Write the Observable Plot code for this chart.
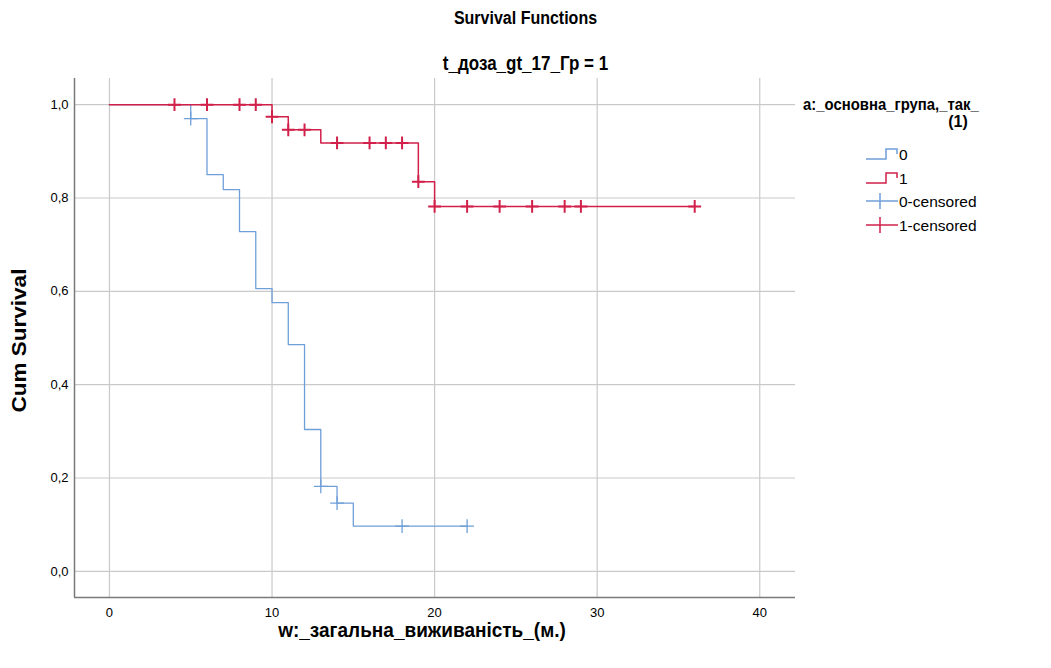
<!DOCTYPE html>
<html>
<head>
<meta charset="utf-8">
<script src="https://cdn.jsdelivr.net/npm/d3@7"></script>
<script src="https://cdn.jsdelivr.net/npm/@observablehq/plot@0.6"></script>
<style>
  html, body { margin: 0; padding: 0; background: #fff; }
  #wrap { position: relative; width: 1051px; height: 668px; font-family: "Liberation Sans", Arial, sans-serif; color: #000; }
  .t { position: absolute; white-space: nowrap; }
  .bold { font-weight: bold; }
  #legend .row { position: absolute; left: 866px; height: 20px; display: flex; align-items: center; font-size: 15.5px; }
  #legend svg { display: block; }
</style>
</head>
<body>
<div id="wrap">
  <div class="t bold" style="left:0;width:1051px;text-align:center;top:9px;font-size:16px;transform:scale(1,1.15);">Survival Functions</div>
  <div class="t bold" style="left:0;width:1051px;text-align:center;top:54px;font-size:17px;transform:scale(1,1.15);">t_доза_gt_17_Гр = 1</div>
  <div class="t bold" style="left:-50px;width:140px;text-align:center;top:330px;font-size:18px;transform:rotate(-90deg) scale(1.25,1.1);transform-origin:center;">Cum Survival</div>
  <div class="t bold" style="left:62px;width:720px;text-align:center;top:620px;font-size:19px;transform:scale(1,1.05);">w:_загальна_виживаність_(м.)</div>
  <div id="legend"></div>
  <div id="chart"></div>
</div>
<script>
// Group 0 (blue): step times and survival values
const times0 = [0, 5, 6, 7, 8, 9, 10, 11, 12, 13, 14, 15, 22];
const surv0  = [1.0, 0.97, 0.85, 0.818, 0.728, 0.606, 0.576, 0.486, 0.304, 0.182, 0.146, 0.097, 0.097];
const censor0 = [5, 13, 14, 18, 22];

// Group 1 (red)
const times1 = [0, 10, 11, 13, 19, 20, 36];
const surv1  = [1.0, 0.974, 0.946, 0.918, 0.835, 0.782, 0.782];
const censor1 = [4, 6, 8, 9, 10, 11, 12, 14, 16, 17, 18, 19, 20, 22, 24, 26, 28, 29, 36];

const xTicks = [0, 10, 20, 30, 40];
const yTicks = [0, 0.2, 0.4, 0.6, 0.8, 1.0];

const groups = ["0", "1"];
const colors = ["#6f9fd8", "#d1204a"];
const legendTitle = "a:_основна_група,_так_";
const legendTitle2 = "(1)";
const legendLabels = ["0", "1", "0-censored", "1-censored"];

function stepAt(times, surv, t) {
  let v = surv[0];
  for (let i = 0; i < times.length; i++) if (times[i] <= t) v = surv[i];
  return v;
}

const line0 = times0.map((t, i) => ({time: t, surv: surv0[i], g: "0"}));
const line1 = times1.map((t, i) => ({time: t, surv: surv1[i], g: "1"}));
const cens0 = censor0.map(t => ({time: t, surv: stepAt(times0, surv0, t), g: "0"}));
const cens1 = censor1.map(t => ({time: t, surv: stepAt(times1, surv1, t), g: "1"}));

const xDom = [-2.15, 42.2];
const yDom = [-0.056, 1.056];
const gridColor = "#c9c9c9";

const chart = Plot.plot({
  width: 1051,
  height: 668,
  marginLeft: 74,
  marginRight: 256,
  marginTop: 78,
  marginBottom: 71,
  style: {fontFamily: '"Liberation Sans", Arial, sans-serif', fontSize: "13px", background: "transparent"},
  x: {domain: xDom},
  y: {domain: yDom},
  color: {domain: groups, range: colors},
  marks: [
    Plot.gridY(yTicks, {stroke: gridColor, strokeOpacity: 1, strokeWidth: 1.2}),
    Plot.gridX(xTicks, {stroke: gridColor, strokeOpacity: 1, strokeWidth: 1.2}),
    Plot.axisY(yTicks, {tickSize: 0, tickPadding: 6, tickFormat: d => d.toFixed(1).replace(".", ","), label: null, fontSize: 13}),
    Plot.axisX(xTicks, {tickSize: 0, tickPadding: 10, label: null, fontSize: 13}),
    Plot.ruleX([xDom[0]], {stroke: "#7a7a7a", strokeWidth: 1.5}),
    Plot.ruleY([yDom[0]], {stroke: "#7a7a7a", strokeWidth: 1.5}),
    Plot.line(line0, {x: "time", y: "surv", stroke: "g", curve: "step-after", strokeWidth: 1.3}),
    Plot.line(line1, {x: "time", y: "surv", stroke: "g", curve: "step-after", strokeWidth: 1.5}),
    Plot.dot(cens0, {x: "time", y: "surv", stroke: "g", symbol: "plus", r: 4.5, strokeWidth: 1.3}),
    Plot.dot(cens1, {x: "time", y: "surv", stroke: "g", symbol: "plus", r: 4.2, strokeWidth: 2})
  ]
});
chart.style.position = "absolute";
chart.style.left = "0px";
chart.style.top = "0px";
document.getElementById("chart").appendChild(chart);

// Legend
const lg = document.getElementById("legend");
const t1 = document.createElement("div");
t1.className = "t bold"; t1.style.left = "803px"; t1.style.top = "96px"; t1.style.fontSize = "16px";
t1.style.transform = "scale(0.93,1.05)"; t1.style.transformOrigin = "left center";
t1.textContent = legendTitle; lg.appendChild(t1);
const t2 = document.createElement("div");
t2.className = "t bold"; t2.style.left = "930px"; t2.style.width = "56px"; t2.style.textAlign = "center"; t2.style.top = "113px"; t2.style.fontSize = "16px";
t2.textContent = legendTitle2; lg.appendChild(t2);

const rowY = [145, 169, 192, 216];
legendLabels.forEach((lab, i) => {
  const row = document.createElement("div");
  row.className = "row";
  row.style.top = rowY[i] + "px";
  const c = colors[i % 2];
  const censored = i >= 2;
  const icon = censored
    ? `<svg width="32" height="20"><line x1="0" y1="9" x2="32" y2="9" stroke="${c}" stroke-width="1.5"/><line x1="14" y1="1" x2="14" y2="17" stroke="${c}" stroke-width="1.5"/></svg>`
    : `<svg width="32" height="20"><polyline points="0,14 20,14 20,4 31,4 31,9" fill="none" stroke="${c}" stroke-width="1.5"/></svg>`;
  row.innerHTML = icon + `<span style="margin-left:1px">${lab}</span>`;
  lg.appendChild(row);
});
</script>
</body>
</html>
